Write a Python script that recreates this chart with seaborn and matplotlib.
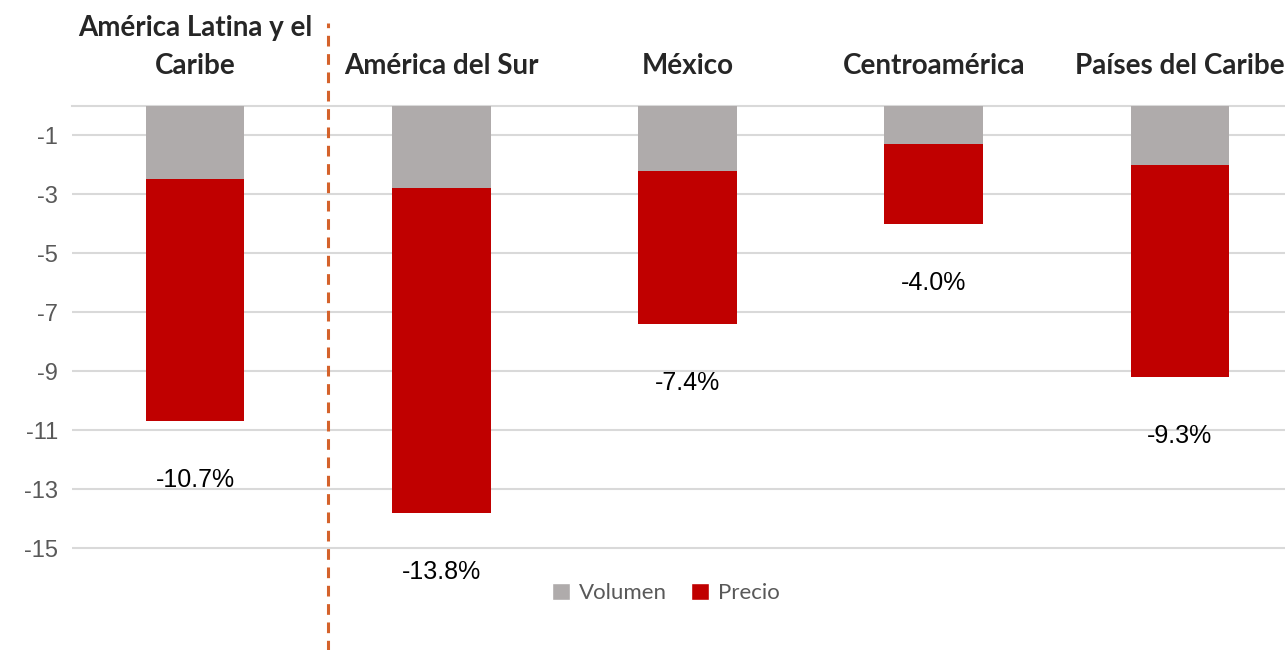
import matplotlib
matplotlib.use("Agg")
import matplotlib.pyplot as plt
import seaborn as sns
import pandas as pd
from matplotlib.patches import Patch

regions = ["América Latina y el\nCaribe", "América del Sur", "México",
           "Centroamérica", "Países del Caribe"]
volumen = [-2.5, -2.8, -2.2, -1.3, -2.0]
precio = [-8.2, -11.0, -5.2, -2.7, -7.2]
total_pct = [-10.7, -13.8, -7.4, -4.0, -9.3]

gray = "#AFABAB"
red = "#C00000"

sns.set_theme(style="white")
plt.rcParams["font.family"] = ["Liberation Sans", "DejaVu Sans"]

df = pd.DataFrame({"region": regions, "volumen": volumen, "precio": precio})
df["total"] = df["volumen"] + df["precio"]

fig = plt.figure(figsize=(12.85, 6.5), dpi=100)
ax = fig.add_axes([72 / 1285, 0.066, 1 - 72 / 1285, 0.7715])

sns.barplot(data=df, x="region", y="total", color=red, width=0.4,
            saturation=1, ax=ax, zorder=3, linewidth=0)
sns.barplot(data=df, x="region", y="volumen", color=gray, width=0.4,
            saturation=1, ax=ax, zorder=4, linewidth=0)

ax.set_xlim(-0.5, 4.427)
ax.set_ylim(-17, 0)
ax.set_yticks([-1, -3, -5, -7, -9, -11, -13, -15])
ax.set_yticklabels(["-1", "-3", "-5", "-7", "-9", "-11", "-13", "-15"])
ax.tick_params(axis="y", labelsize=17, labelcolor="#595959", length=0, pad=10)
ax.yaxis.grid(True, color="#D9D9D9", linewidth=1.5, zorder=0)
ax.set_axisbelow(True)

# categories go on top
ax.xaxis.tick_top()
ax.tick_params(axis="x", length=0, pad=19)
ax.set_xticks(range(len(regions)))
ax.set_xticklabels(regions, fontsize=20, fontweight="bold",
                   family=["Lato", "DejaVu Sans"], linespacing=1.6)
ax.set_xlabel("")
ax.set_ylabel("")

for s in ["left", "right", "bottom"]:
    ax.spines[s].set_visible(False)
ax.spines["top"].set_color("#D9D9D9")
ax.spines["top"].set_linewidth(1.5)

# total labels under the bars
for i, (v, p, t) in enumerate(zip(volumen, precio, total_pct)):
    ax.text(i, v + p - 2.0, f"{t:.1f}%", ha="center", va="center",
            fontsize=18, color="black")

# dashed separator
ax.axvline(0.54, ymin=-0.09, ymax=1.165, color="#D4622B", linewidth=2.2,
           linestyle=(0, (3.5, 2.5)), clip_on=False, zorder=5)

handles = [Patch(facecolor=gray, label="Volumen"),
           Patch(facecolor=red, label="Precio")]
fig.legend(handles=handles, loc="center", bbox_to_anchor=(666 / 1285, 1 - 593 / 650),
           ncol=2, frameon=False, handlelength=0.8, handleheight=0.8,
           handletextpad=0.4, columnspacing=1.1,
           prop={"family": ["Lato", "DejaVu Sans"], "size": 16},
           labelcolor="#595959")

fig.savefig("out.png", dpi=100)
